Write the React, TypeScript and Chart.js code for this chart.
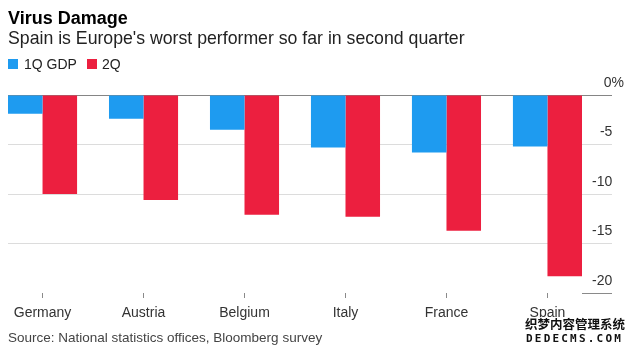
import React, { useEffect, useRef } from "react";
import { Chart, registerables } from "chart.js";

Chart.register(...registerables);

const categories = ["Germany", "Austria", "Belgium", "Italy", "France", "Spain"];
const seriesNames = ["1Q GDP", "2Q"];
const gdp1Q = [-1.9, -2.4, -3.5, -5.3, -5.8, -5.2];
const gdp2Q = [-10.0, -10.6, -12.1, -12.3, -13.7, -18.3];
const yTickValues = [-20, -15, -10, -5, 0];

const BLUE = "#1e9bf0";
const RED = "#ec1f3f";
const FONT = "'Liberation Sans', Arial, Helvetica, sans-serif";

const abs = (o: React.CSSProperties): React.CSSProperties => ({
  position: "absolute",
  whiteSpace: "nowrap",
  fontFamily: FONT,
  margin: 0,
  ...o,
});

export default function App() {
  const ref = useRef<HTMLCanvasElement>(null);

  useEffect(() => {
    const chart = new Chart(ref.current as HTMLCanvasElement, {
      type: "bar",
      data: {
        datasets: [
          {
            label: seriesNames[0],
            data: gdp1Q.map((v, i) => ({ x: i, y: v })),
            backgroundColor: BLUE,
            borderWidth: 0,
            categoryPercentage: 0.684,
            barPercentage: 1,
          },
          {
            label: seriesNames[1],
            data: gdp2Q.map((v, i) => ({ x: i, y: v })),
            backgroundColor: RED,
            borderWidth: 0,
            categoryPercentage: 0.684,
            barPercentage: 1,
          },
        ],
      },
      options: {
        animation: false,
        responsive: true,
        maintainAspectRatio: false,
        layout: { padding: { left: 8, top: 95, right: 10, bottom: 28 } },
        plugins: {
          legend: { display: false },
          title: { display: false },
          tooltip: { enabled: false },
        },
        scales: {
          x: {
            type: "linear",
            min: -0.342,
            max: 5.342,
            offset: false,
            afterBuildTicks: (axis: any) => {
              axis.ticks = categories.map((_, i) => ({ value: i }));
            },
            afterFit: (axis: any) => {
              axis.height = 30;
            },
            grid: {
              display: true,
              offset: false,
              drawOnChartArea: false,
              drawTicks: true,
              tickLength: 5,
              tickColor: "#8a8a8a",
              tickWidth: 1,
            },
            border: { display: false },
            ticks: {
              autoSkip: false,
              maxRotation: 0,
              minRotation: 0,
              padding: 7,
              color: "#333333",
              font: { family: FONT, size: 14 },
              callback: (v: any) => categories[Number(v)] ?? "",
            },
          },
          y: {
            position: "right",
            min: -20,
            max: 0,
            afterBuildTicks: (axis: any) => {
              axis.ticks = yTickValues.map((v) => ({ value: v }));
            },
            afterFit: (axis: any) => {
              axis.width = 42;
            },
            grid: {
              drawTicks: true,
              tickLength: 30,
              lineWidth: 1,
              color: (ctx: any) =>
                ctx.tick && ctx.tick.value === 0
                  ? "#858585"
                  : ctx.tick && ctx.tick.value === -20
                  ? "rgba(0,0,0,0)"
                  : "#dcdcdc",
              tickColor: (ctx: any) =>
                ctx.tick && ctx.tick.value === 0
                  ? "#858585"
                  : ctx.tick && ctx.tick.value === -20
                  ? "#8a8a8a"
                  : "#dcdcdc",
            },
            border: { display: false },
            ticks: {
              crossAlign: "far",
              padding: 0,
              labelOffset: -12,
              color: "#333333",
              font: { family: FONT, size: 14 },
              callback: (v: any) => (Number(v) === 0 ? "0%" : `${v}   `),
            },
          },
        },
      } as any,
    });
    return () => chart.destroy();
  }, []);

  return (
    <div style={{ position: "absolute", left: 0, top: 0, width: 634, height: 351, background: "#fff" }}>
      <div style={{ position: "absolute", left: 0, top: 0, width: 634, height: 351 }}>
        <canvas ref={ref} />
      </div>
      <div style={abs({ left: 8, top: 9, fontSize: 18, lineHeight: "18px", fontWeight: 700, color: "#000" })}>
        Virus Damage
      </div>
      <div style={abs({ left: 8, top: 30, fontSize: 17.7, lineHeight: "17.7px", color: "#222" })}>
        Spain is Europe's worst performer so far in second quarter
      </div>
      <div style={abs({ left: 8, top: 59, width: 10, height: 10, background: BLUE })} />
      <div style={abs({ left: 24, top: 57, fontSize: 14, lineHeight: "14px", color: "#222" })}>{seriesNames[0]}</div>
      <div style={abs({ left: 87, top: 59, width: 10, height: 10, background: RED })} />
      <div style={abs({ left: 102, top: 57, fontSize: 14, lineHeight: "14px", color: "#222" })}>{seriesNames[1]}</div>
      <div style={abs({ left: 8, top: 331, fontSize: 13.5, lineHeight: "13.5px", color: "#444" })}>
        Source: National statistics offices, Bloomberg survey
      </div>
      <div
        style={abs({
          left: 525,
          top: 317,
          fontSize: 12.5,
          lineHeight: "13px",
          fontWeight: 700,
          color: "#111",
          fontFamily: "'Noto Sans CJK SC', sans-serif",
          textShadow: "1px 0 #fff, -1px 0 #fff, 0 1px #fff, 0 -1px #fff",
        })}
      >
        织梦内容管理系统
      </div>
      <div
        style={abs({
          left: 526,
          top: 333,
          fontSize: 11,
          lineHeight: "11px",
          fontWeight: 700,
          color: "#111",
          letterSpacing: "2.2px",
          fontFamily: "'DejaVu Sans Mono', monospace",
          textShadow: "1px 0 #fff, -1px 0 #fff, 0 1px #fff, 0 -1px #fff",
        })}
      >
        DEDECMS.COM
      </div>
    </div>
  );
}
